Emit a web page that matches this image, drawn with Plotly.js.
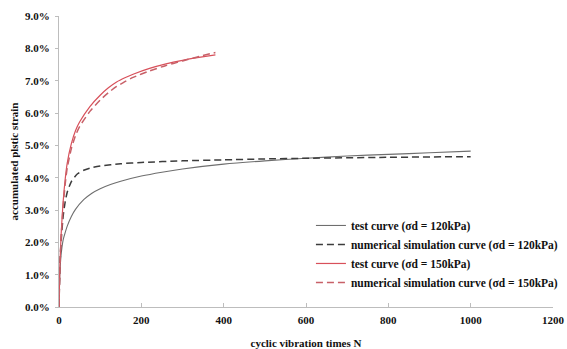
<!DOCTYPE html>
<html><head><meta charset="utf-8">
<script src="https://cdn.plot.ly/plotly-3.0.1.min.js"></script>
<style>html,body{margin:0;padding:0;background:#fff;}#chart{width:567px;height:349px;}</style>
</head><body><div id="chart"></div>
<script>
const testN120 = [0, 2, 5, 10, 15, 20, 30, 40, 60, 80, 100, 125, 150, 200, 250, 300, 400, 500, 600, 700, 800, 900, 1000];
const testS120 = [0, 1.0, 1.6, 2.07, 2.3, 2.5, 2.8, 3.02, 3.32, 3.52, 3.66, 3.79, 3.89, 4.05, 4.17, 4.27, 4.42, 4.52, 4.6, 4.67, 4.72, 4.77, 4.82];
const simN120 = [0, 2, 5, 10, 15, 20, 30, 45, 60, 80, 100, 150, 200, 300, 400, 500, 600, 800, 1000];
const simS120 = [0, 1.2, 2.0, 2.8, 3.25, 3.55, 3.88, 4.12, 4.23, 4.31, 4.36, 4.43, 4.47, 4.52, 4.55, 4.58, 4.6, 4.63, 4.65];
const testN150 = [0, 2, 5, 10, 15, 20, 30, 40, 50, 75, 100, 120, 140, 160, 180, 220, 260, 300, 340, 380];
const testS150 = [0, 1.2, 2.2, 3.25, 3.95, 4.45, 5.05, 5.45, 5.72, 6.2, 6.55, 6.78, 6.96, 7.09, 7.2, 7.38, 7.52, 7.63, 7.72, 7.80];
const simN150 = [0, 2, 5, 10, 15, 20, 30, 40, 50, 75, 100, 120, 140, 160, 180, 220, 260, 300, 340, 380];
const simS150 = [0, 1.1, 2.1, 3.1, 3.8, 4.3, 4.9, 5.3, 5.58, 6.05, 6.4, 6.63, 6.82, 6.97, 7.1, 7.3, 7.47, 7.61, 7.75, 7.87];
const seriesNames = ["test curve (σd = 120kPa)", "numerical simulation curve (σd = 120kPa)", "test curve (σd = 150kPa)", "numerical simulation curve (σd = 150kPa)"];
const yTicks = [0, 1, 2, 3, 4, 5, 6, 7, 8, 9];
const yTickText = ["0.0%", "1.0%", "2.0%", "3.0%", "4.0%", "5.0%", "6.0%", "7.0%", "8.0%", "9.0%"];
const xTicks = [0, 200, 400, 600, 800, 1000, 1200];

const serif = "Liberation Serif, Times New Roman, serif";
const fnt = (s) => ({family: serif, size: s, color: "#111", weight: "bold"});
const traces = [
  {x: testN120, y: testS120, name: seriesNames[0], mode: "lines", line: {color: "#6e6e6e", width: 1.1, shape: "spline", smoothing: 0.6}},
  {x: simN120, y: simS120, name: seriesNames[1], mode: "lines", line: {color: "#3c3c3c", width: 1.5, dash: "7px,4px", shape: "spline", smoothing: 0.6}},
  {x: testN150, y: testS150, name: seriesNames[2], mode: "lines", line: {color: "#d8505a", width: 1.2, shape: "spline", smoothing: 0.6}},
  {x: simN150, y: simS150, name: seriesNames[3], mode: "lines", line: {color: "#c86068", width: 1.5, dash: "7px,4px", shape: "spline", smoothing: 0.6}}
];
const layout = {
  width: 567, height: 349,
  margin: {l: 59, r: 14, t: 16, b: 42, autoexpand: false},
  paper_bgcolor: "#fff", plot_bgcolor: "#fff",
  showlegend: true,
  font: fnt(11),
  xaxis: {
    range: [0, 1200], tickvals: xTicks, ticktext: xTicks.map(String), automargin: false,
    showgrid: false, zeroline: false, showline: true, linecolor: "#bdbdbd", linewidth: 1,
    ticks: "inside", ticklen: 4, tickcolor: "#bdbdbd", ticklabelstandoff: 3,
    tickfont: fnt(11),
    title: {text: "cyclic vibration times N", font: fnt(11), standoff: 14}
  },
  yaxis: {
    range: [0, 9], tickvals: yTicks, ticktext: yTickText, automargin: false,
    showgrid: false, zeroline: false, showline: true, linecolor: "#bdbdbd", linewidth: 1,
    ticks: "outside", ticklen: 3, tickcolor: "#bdbdbd", ticklabelstandoff: 3,
    tickfont: fnt(11),
    title: {text: "accumulated plstic strain", font: fnt(11), standoff: 4}
  },
  legend: {
    x: 0.51, y: 0.33, xanchor: "left", yanchor: "top",
    bgcolor: "rgba(255,255,255,0)", borderwidth: 0,
    font: fnt(11.5),
    itemwidth: 30, tracegroupgap: 0
  }
};
Plotly.newPlot("chart", traces, layout, {displayModeBar: false, staticPlot: true});
</script></body></html>
